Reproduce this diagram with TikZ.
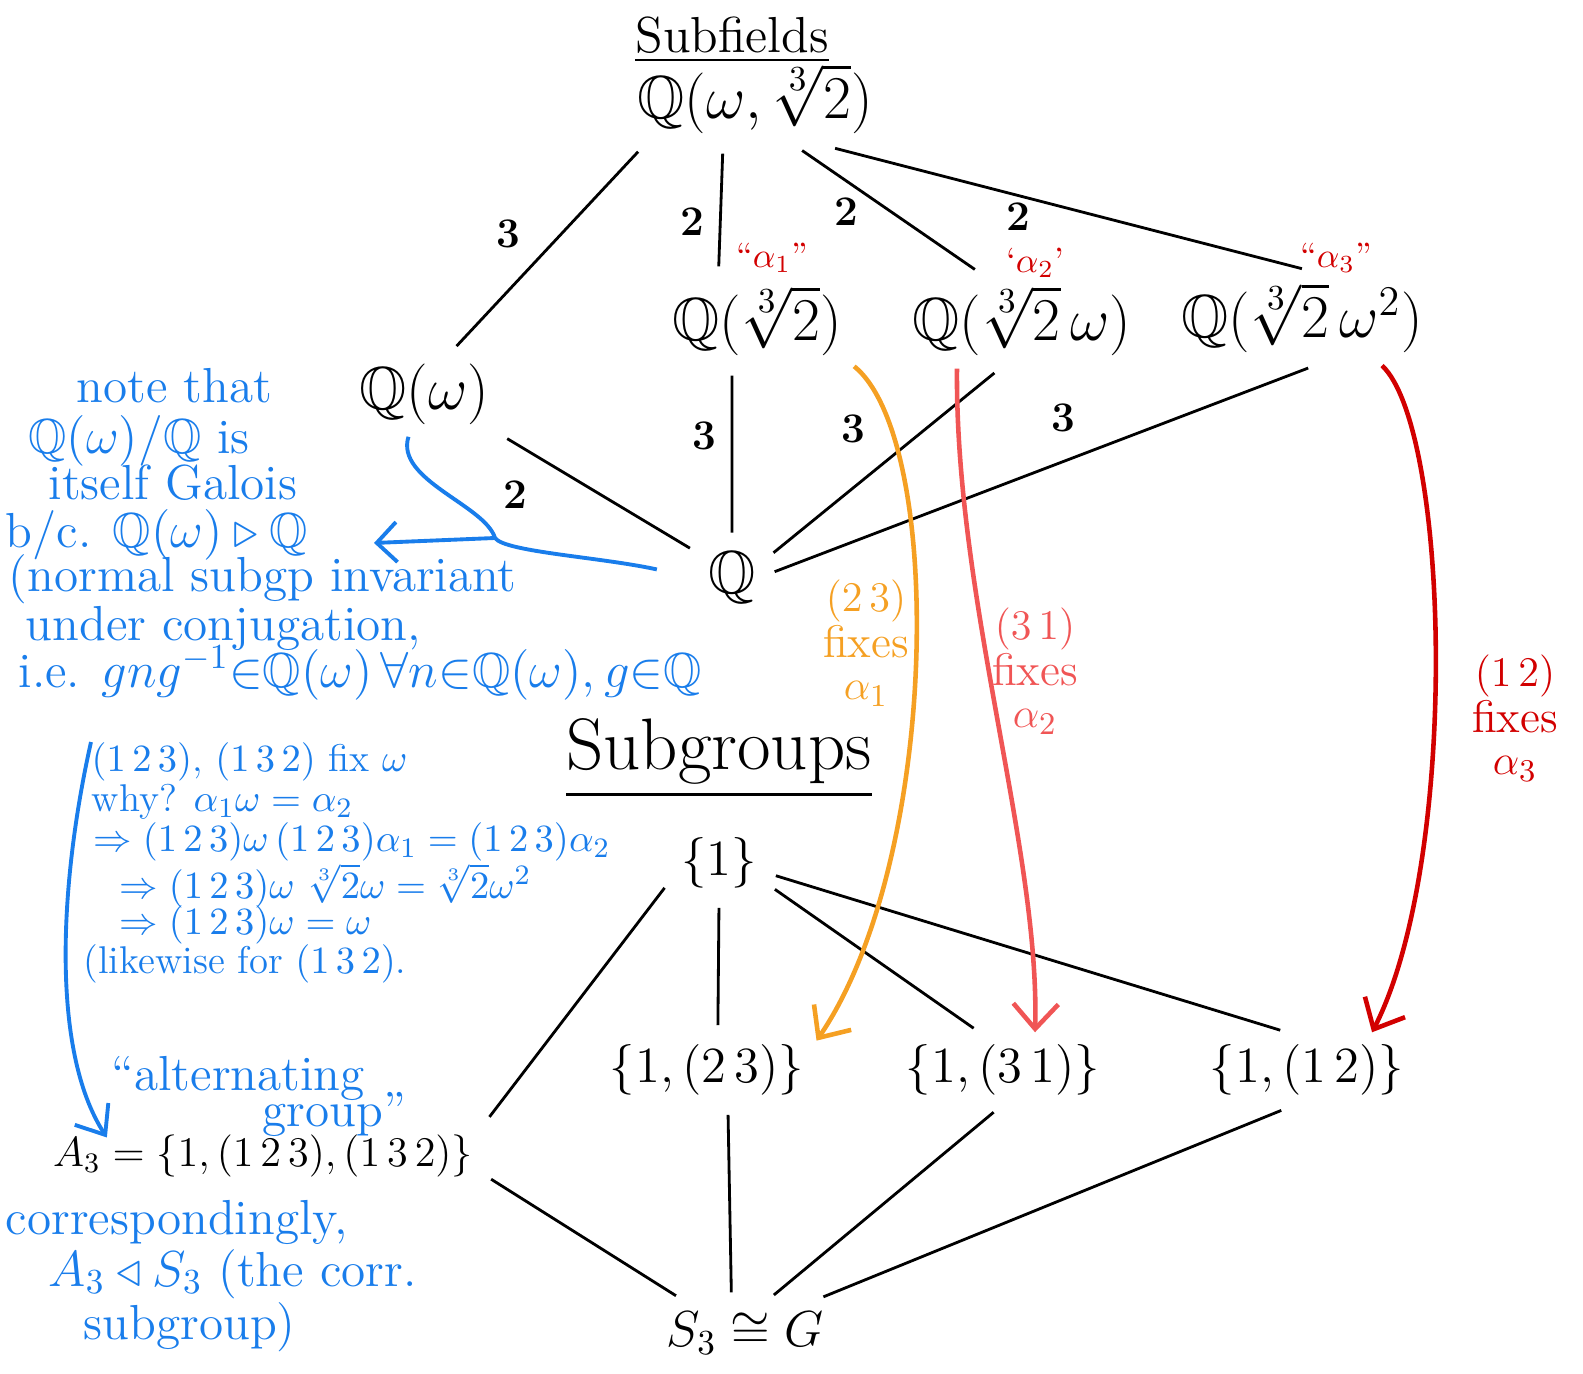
\documentclass[tikz,border=0pt]{standalone}
\usepackage{amsmath,amssymb}
\usepackage{xcolor}
\usetikzlibrary{arrows.meta}

\definecolor{noteblue}{RGB}{25,125,235}
\definecolor{fixorange}{RGB}{245,160,35}
\definecolor{fixred}{RGB}{240,85,85}
\definecolor{fixdark}{RGB}{210,0,0}

\begin{document}
\begin{tikzpicture}[x=0.01cm,y=-0.01cm,
  field/.style={font=\LARGE},
  grp/.style={font=\Large},
  deg/.style={font=\large\bfseries},
  note/.style={text=noteblue,font={\fontsize{14}{16}\selectfont},anchor=west,inner sep=0pt},
  why/.style={note,font={\fontsize{11}{12}\selectfont}},
  fixlabel/.style={font={\fontsize{13}{12}\selectfont},align=center,inner sep=0pt},
  lattice/.style={thick,shorten <=2pt,shorten >=2pt},
  fixarrow/.style={line width=1.3pt,-{Straight Barb[length=2.5mm,width=4.5mm]}},
  bluearrow/.style={noteblue,line width=1.1pt}]
\useasboundingbox (0,0) rectangle (1583,1374);

% subfields
\node[font=\Large] (fields) at (732,40) {\underline{Subfields}};
\node[field] (top) at (755,99) {$\mathbb{Q}(\omega,\sqrt[3]{2})$};
\node[field] (qw) at (424,394) {$\mathbb{Q}(\omega)$};
\node[field] (q2) at (757,321) {$\mathbb{Q}(\sqrt[3]{2})$};
\node[field] (q3) at (1022,321) {$\mathbb{Q}(\sqrt[3]{2}\,\omega)$};
\node[field] (q4) at (1302,318) {$\mathbb{Q}(\sqrt[3]{2}\,\omega^2)$};
\node[field] (q) at (732,578) {$\mathbb{Q}$};

\node[text=fixdark,inner sep=0pt] (al1) at (772,258) {``$\alpha_1$''};
\node[text=fixdark,inner sep=0pt] (al2) at (1035,263) {`$\alpha_2$'};
\node[text=fixdark,inner sep=0pt] (al3) at (1336,258) {``$\alpha_3$''};

\draw[lattice] (top.-157) -- (qw.57);
\draw[lattice] (top.-124) -- (q2.129);
\draw[lattice] (top.-49) -- (q3.131);
\draw[lattice] (top.-33) -- (q4.82);
\draw[lattice] (qw.-28) -- (q.144);
\draw[lattice] ([xshift=-2.5mm]q2.south) -- (q.90);
\draw[lattice] (q3.-115) -- (q.30);
\draw[lattice] (q4.-75) -- (q.6);

\node[deg] (d1) at (508,234) {3};
\node[deg] (d2) at (692,222) {2};
\node[deg] (d3) at (846,212) {2};
\node[deg] (d4) at (1018,217) {2};
\node[deg] (d5) at (704,436) {3};
\node[deg] (d6) at (853,429) {3};
\node[deg] (d7) at (1063,418) {3};
\node[deg] (d8) at (515,495) {2};

% subgroups
\node[font=\huge] (groups) at (719,759) {\underline{Subgroups}};
\node[grp] (e) at (719,863) {$\{1\}$};
\node[grp] (h1) at (707,1070) {$\{1,(2\,3)\}$};
\node[grp] (h2) at (1003,1070) {$\{1,(3\,1)\}$};
\node[grp] (h3) at (1307,1070) {$\{1,(1\,2)\}$};
\node[font=\large] (a3) at (263,1156) {$A_3=\{1,(1\,2\,3),(1\,3\,2)\}$};
\node[grp] (s3) at (745,1333) {$S_3\cong G$};

\draw[lattice] (e.-159) -- (a3.north east);
\draw[lattice] (e.-90) -- (h1.74);
\draw[lattice] (e.-24) -- (h2.122);
\draw[lattice] (e.-12) -- (h3.118);
\draw[lattice] (a3.-5) -- (s3.152);
\draw[lattice] (h1.-61) -- (s3.112);
\draw[lattice] (h2.-96) -- (s3.55);
\draw[lattice] (h3.-117) -- (s3.25);

% which transposition fixes which root
\draw[fixarrow,fixorange] (q2.-25) .. controls (945,440) and (940,860) .. (h1.15);
\draw[fixarrow,fixred] ([xshift=-6.5mm]q3.south) .. controls (955,600) and (1040,850) .. ([xshift=3.2mm]h2.north);
\draw[fixarrow,fixdark] ([xshift=8mm]q4.south) .. controls (1450,430) and (1460,860) .. ([xshift=6.5mm]h3.north);

\node[fixlabel,text=fixorange] (f1) at (866,643) {$(2\,3)$\\fixes\\$\alpha_1$};
\node[fixlabel,text=fixred] (f2) at (1035,671) {$(3\,1)$\\fixes\\$\alpha_2$};
\node[fixlabel,text=fixdark] (f3) at (1515,718) {$(1\,2)$\\fixes\\$\alpha_3$};

% notes
\node[note] (n1) at (76,386) {note that};
\node[note] (n2) at (28,441) {$\mathbb{Q}(\omega)/\mathbb{Q}$ is};
\node[note] (n3) at (48,483) {itself Galois};
\node[note] (n4) at (5,535) {b/c. $\mathbb{Q}(\omega)\triangleright\mathbb{Q}$};
\node[note] (n5) at (8,579) {(normal subgp invariant};
\node[note] (n6) at (25,628) {under conjugation,};
\node[note] (n7) at (18,673) {i.e. $gng^{-1}{\in}\mathbb{Q}(\omega)\,\forall n{\in}\mathbb{Q}(\omega),g{\in}\mathbb{Q}$};

\coordinate (brc) at (495,538);
\coordinate (brtip) at (374,543);
\draw[bluearrow,shorten >=4mm] (qw.-110) .. controls (395,480) and (485,505) .. (brc)
  .. controls (505,552) and (600,557) .. (q.west);
\draw[bluearrow,-{Straight Barb[length=2mm,width=4mm]}] (brc) -- (brtip);

\node[why] (b1) at (91,762) {$(1\,2\,3)$, $(1\,3\,2)$ fix $\omega$};
\node[why] (b2) at (91,802) {why? $\alpha_1\omega=\alpha_2$};
\node[why] (b3) at (93,842) {$\Rightarrow(1\,2\,3)\omega\,(1\,2\,3)\alpha_1=(1\,2\,3)\alpha_2$};
\node[why] (b4) at (119,886) {$\Rightarrow(1\,2\,3)\omega\ \sqrt[3]{2}\omega=\sqrt[3]{2}\omega^2$};
\node[why] (b5) at (119,925) {$\Rightarrow(1\,2\,3)\omega=\omega$};
\node[why] (b6) at (83,964) {(likewise for $(1\,3\,2)$.};

\draw[bluearrow,-{Straight Barb[length=2.5mm,width=4mm]}] (b1.north west)
  .. controls (60,880) and (50,1050) .. ([xshift=6.6mm,yshift=-1.5mm]a3.north west);

\node[note] (c1) at (111,1078) {``alternating};
\node[note] (c2) at (262,1114) {group''};
\node[note] (c3) at (5,1222) {correspondingly,};
\node[note] (c4) at (48,1274) {$A_3\triangleleft S_3$ (the corr.};
\node[note] (c5) at (83,1327) {subgroup)};
\end{tikzpicture}
\end{document}
